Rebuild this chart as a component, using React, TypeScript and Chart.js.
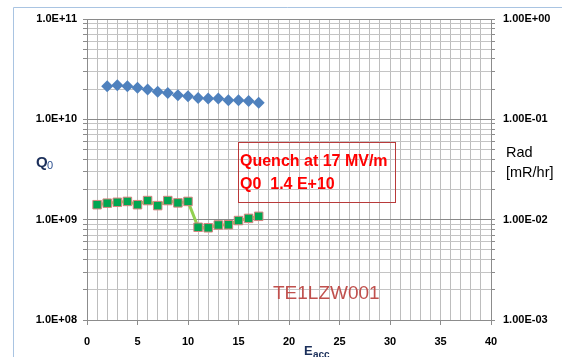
import React, { useEffect, useRef } from 'react';
import { Chart, registerables } from 'chart.js';

Chart.register(...registerables);

// ---- data ----
const eaccQ0: number[] = [2, 3, 4, 5, 6, 7, 8, 9, 10, 11, 12, 13, 14, 15, 16, 17];
const q0Values: number[] = [
  2.14e10, 2.19e10, 2.14e10, 2.07e10, 1.98e10, 1.88e10, 1.83e10, 1.74e10,
  1.70e10, 1.63e10, 1.61e10, 1.61e10, 1.55e10, 1.55e10, 1.52e10, 1.46e10,
];
const eaccRad: number[] = [1, 2, 3, 4, 5, 6, 7, 8, 9, 10, 11, 12, 13, 14, 15, 16, 17];
const radValues: number[] = [
  0.0141, 0.0146, 0.0149, 0.0152, 0.0141, 0.0155, 0.0138, 0.0155, 0.0147, 0.0152,
  0.0084, 0.0083, 0.00885, 0.0089, 0.0098, 0.0103, 0.0108,
];
const xLabelValues: number[] = [0, 5, 10, 15, 20, 25, 30, 35, 40];
const q0Decades: number[] = [1e8, 1e9, 1e10, 1e11];
const q0DecadeLabels: string[] = ['1.0E+08', '1.0E+09', '1.0E+10', '1.0E+11'];
const radDecades: number[] = [1e-3, 1e-2, 1e-1, 1];
const radDecadeLabels: string[] = ['1.00E-03', '1.00E-02', '1.00E-01', '1.00E+00'];
const annotationLines: string[] = ['Quench at 17 MV/m', 'Q0  1.4 E+10'];
const cavityName = 'TE1LZW001';

const TICK_FONT = { family: "'Liberation Sans', Arial, sans-serif", size: 11, weight: 'bold' as const };

function logTicks(decades: number[]) {
  const out: { value: number }[] = [];
  for (let d = 0; d < decades.length; d++) {
    out.push({ value: decades[d] });
    if (d < decades.length - 1) {
      for (let m = 2; m <= 9; m++) out.push({ value: decades[d] * m });
    }
  }
  return out;
}

function isDecade(v: number) {
  const l = Math.log10(v);
  return Math.abs(l - Math.round(l)) < 1e-9;
}

function decadeLabel(v: number, decades: number[], labels: string[]) {
  for (let i = 0; i < decades.length; i++) {
    if (Math.abs(Math.log10(v) - Math.log10(decades[i])) < 1e-9) return labels[i];
  }
  return '';
}

const overlayPlugin = {
  id: 'overlay',
  afterDraw(chart: any) {
    const ctx = chart.ctx as CanvasRenderingContext2D;
    ctx.save();
    // outer chart frame
    ctx.strokeStyle = '#a9c4e2';
    ctx.lineWidth = 1;
    ctx.beginPath();
    ctx.moveTo(13.5, 357);
    ctx.lineTo(13.5, 7.5);
    ctx.lineTo(562, 7.5);
    ctx.stroke();

    // quench annotation box
    ctx.strokeStyle = '#b83a3a';
    ctx.strokeRect(238.5, 142.5, 157, 60);
    ctx.fillStyle = '#ff0000';
    ctx.font = "bold 16px 'Liberation Sans', Arial, sans-serif";
    ctx.textBaseline = 'middle';
    ctx.textAlign = 'left';
    ctx.fillText(annotationLines[0], 240, 162);
    ctx.fillText(annotationLines[1], 240, 185);

    // cavity name
    ctx.fillStyle = '#c0504d';
    ctx.font = "19px 'Liberation Sans', Arial, sans-serif";
    ctx.fillText(cavityName, 273, 294);

    // Q0 axis title
    ctx.fillStyle = '#1b2f5a';
    ctx.textBaseline = 'alphabetic';
    ctx.font = "bold 15px 'Liberation Sans', Arial, sans-serif";
    ctx.fillText('Q', 36, 167);
    ctx.fillStyle = '#2c4f8f';
    ctx.font = "11px 'Liberation Sans', Arial, sans-serif";
    ctx.fillText('0', 47, 169);

    // Eacc axis title
    ctx.fillStyle = '#1b2f5a';
    ctx.font = "bold 13px 'Liberation Sans', Arial, sans-serif";
    ctx.fillText('E', 304, 355);
    ctx.font = "bold 10px 'Liberation Sans', Arial, sans-serif";
    ctx.fillText('acc', 313, 358);

    // Rad axis title
    ctx.fillStyle = '#000000';
    ctx.font = "14.5px 'Liberation Sans', Arial, sans-serif";
    ctx.textBaseline = 'middle';
    ctx.fillText('Rad', 506, 153);
    ctx.fillText('[mR/hr]', 506, 173);
    ctx.restore();
  },
};

export default function App() {
  const ref = useRef<HTMLCanvasElement | null>(null);

  useEffect(() => {
    document.body.style.margin = '0';
    const canvas = ref.current;
    if (!canvas) return;
    const chart = new Chart(canvas, {
      type: 'scatter',
      data: {
        datasets: [
          {
            label: 'Q0',
            data: eaccQ0.map((x, i) => ({ x, y: q0Values[i] })),
            yAxisID: 'y',
            showLine: false,
            pointStyle: 'rectRot',
            pointRadius: 6,
            pointBackgroundColor: '#4f81bd',
            pointBorderColor: '#4f81bd',
            pointBorderWidth: 0,
          },
          {
            label: 'Rad',
            data: eaccRad.map((x, i) => ({ x, y: radValues[i] })),
            yAxisID: 'y1',
            showLine: true,
            borderColor: '#92d050',
            borderWidth: 3,
            pointStyle: 'rect',
            pointRadius: 6,
            pointBackgroundColor: '#00a651',
            pointBorderColor: '#d9837f',
            pointBorderWidth: 1,
          },
        ],
      },
      options: {
        animation: false,
        responsive: false,
        maintainAspectRatio: false,
        layout: { padding: { top: 19, left: 0, right: 0, bottom: 0 } },
        plugins: { legend: { display: false }, tooltip: { enabled: false } },
        scales: {
          x: {
            type: 'linear',
            position: 'bottom',
            min: 0,
            max: 40,
            afterBuildTicks: (s: any) => {
              const t: { value: number }[] = [];
              for (let v = xLabelValues[0]; v <= xLabelValues[xLabelValues.length - 1]; v++) t.push({ value: v });
              s.ticks = t;
            },
            afterFit: (s: any) => {
              s.height = 37;
            },
            ticks: {
              autoSkip: false,
              maxRotation: 0,
              padding: 10,
              color: '#000',
              font: TICK_FONT,
              callback: (v: any) => (xLabelValues.includes(Number(v)) ? String(v) : ''),
            },
            grid: {
              color: '#bdbdbd',
              lineWidth: 1,
              tickLength: 5,
              tickColor: (c: any) =>
                c.tick && xLabelValues.includes(c.tick.value) ? '#8c8c8c' : 'rgba(0,0,0,0)',
            },
            border: { color: '#8c8c8c' },
          },
          y: {
            type: 'logarithmic',
            position: 'left',
            min: q0Decades[0],
            max: q0Decades[q0Decades.length - 1],
            afterBuildTicks: (s: any) => {
              s.ticks = logTicks(q0Decades);
            },
            afterFit: (s: any) => {
              s.width = 87;
            },
            ticks: {
              autoSkip: false,
              padding: 6,
              color: '#000',
              font: TICK_FONT,
              callback: (v: any) => decadeLabel(Number(v), q0Decades, q0DecadeLabels),
            },
            grid: {
              color: (c: any) => (c.tick && isDecade(c.tick.value) ? '#8a8a8a' : '#c4c4c4'),
              tickColor: '#8c8c8c',
              lineWidth: 1,
              tickLength: 4,
            },
            border: { color: '#8c8c8c' },
          },
          y1: {
            type: 'logarithmic',
            position: 'right',
            min: radDecades[0],
            max: radDecades[radDecades.length - 1],
            afterBuildTicks: (s: any) => {
              s.ticks = logTicks(radDecades);
            },
            afterFit: (s: any) => {
              s.width = 71;
            },
            ticks: {
              autoSkip: false,
              padding: 8,
              color: '#000',
              font: TICK_FONT,
              callback: (v: any) => decadeLabel(Number(v), radDecades, radDecadeLabels),
            },
            grid: {
              drawOnChartArea: false,
              tickColor: '#8c8c8c',
              tickLength: 4,
            },
            border: { color: '#8c8c8c' },
          },
        },
      },
      plugins: [overlayPlugin],
    } as any);
    return () => chart.destroy();
  }, []);

  return (
    <canvas
      ref={ref}
      width={562}
      height={357}
      style={{ display: 'block', position: 'absolute', left: 0, top: 0, width: 562, height: 357 }}
    />
  );
}
